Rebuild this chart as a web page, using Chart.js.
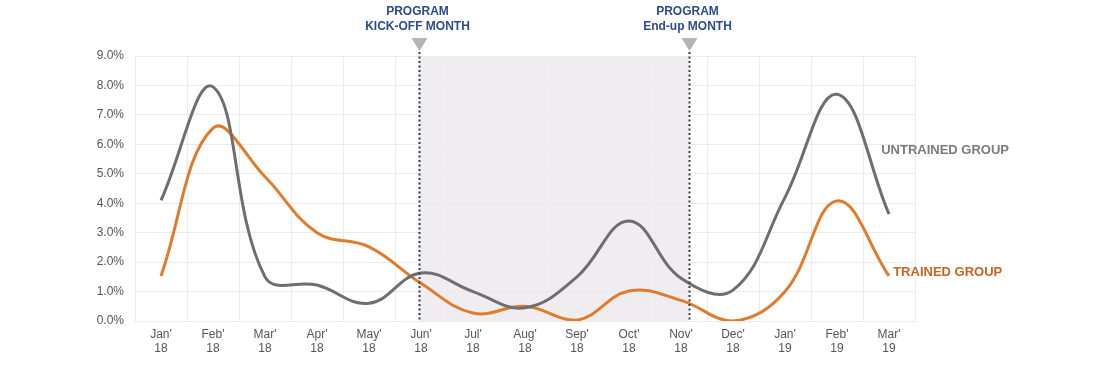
<!DOCTYPE html>
<html>
<head>
<meta charset="utf-8">
<script src="https://cdn.jsdelivr.net/npm/chart.js@4/dist/chart.umd.min.js"></script>
<style>
  html, body { margin: 0; padding: 0; background: #fff; }
  #wrap { width: 1099px; height: 371px; position: relative; }
</style>
</head>
<body>
<div id="wrap"><canvas id="chart"></canvas></div>
<script>
/* ── Data ─────────────────────────────────────────────────────────────── */

const MONTHS    = ["Jan'", "Feb'", "Mar'", "Apr'", "May'", "Jun'", "Jul'", "Aug'",
                   "Sep'", "Oct'", "Nov'", "Dec'", "Jan'", "Feb'", "Mar'"];
const YEARS     = ['18', '18', '18', '18', '18', '18', '18', '18',
                   '18', '18', '18', '18', '19', '19', '19'];
const UNTRAINED = [4.1, 7.95, 1.5, 1.22, 0.6, 1.63, 1.0, 0.45, 1.5, 3.4, 1.45, 1.05, 4.2, 7.7, 3.63];
const TRAINED   = [1.53, 6.55, 4.9, 3.0, 2.52, 1.28, 0.27, 0.5, 0.03, 1.02, 0.7, 0.0, 1.0, 4.08, 1.53];
const Y_TICKS   = [0, 1, 2, 3, 4, 5, 6, 7, 8, 9];

// program window markers (category index, may be fractional)
const MARKERS = [
  { at: 4.96,  text: ['PROGRAM', 'KICK-OFF MONTH'] },
  { at: 10.15, text: ['PROGRAM', 'End-up MONTH'] },
];

// end-of-series labels
const SERIES_TAGS = [
  { text: 'UNTRAINED GROUP', x: 13.85, y: 5.8,  color: '#7b7b7b' },
  { text: 'TRAINED GROUP',   x: 14.08, y: 1.65, color: '#c8641f' },
];

const GREY   = '#6e6e6e';
const ORANGE = '#e07b2c';
const GRID   = '#ebebeb';

/* ── Annotation plugin ────────────────────────────────────────────────── */

const programPlugin = {
  id: 'program',
  beforeDraw(chart) {
    const { ctx, chartArea: a, scales: { x } } = chart;
    const x0 = x.getPixelForValue(MARKERS[0].at);
    const x1 = x.getPixelForValue(MARKERS[1].at);
    ctx.save();
    ctx.fillStyle = '#efedef';
    ctx.fillRect(x0, a.top, x1 - x0, a.bottom - a.top);
    ctx.restore();
  },
  afterDatasetsDraw(chart) {
    const { ctx, chartArea: a, scales: { x, y } } = chart;
    ctx.save();
    MARKERS.forEach(m => {
      const px = Math.round(x.getPixelForValue(m.at)) + 0.5;
      // dotted line
      ctx.strokeStyle = '#333a48';
      ctx.lineWidth = 2;
      ctx.setLineDash([2, 2.5]);
      ctx.beginPath();
      ctx.moveTo(px, a.top - 4);
      ctx.lineTo(px, a.bottom);
      ctx.stroke();
      ctx.setLineDash([]);
      // triangle
      ctx.fillStyle = '#b4b4b4';
      ctx.beginPath();
      ctx.moveTo(px - 8, 38);
      ctx.lineTo(px + 8, 38);
      ctx.lineTo(px, 51);
      ctx.closePath();
      ctx.fill();
      // caption
      ctx.fillStyle = '#2b4c8a';
      ctx.font = 'bold 12px "Liberation Sans", Arial, sans-serif';
      ctx.textAlign = 'center';
      ctx.textBaseline = 'middle';
      ctx.fillText(m.text[0], px - 2, 12);
      ctx.fillText(m.text[1], px - 2, 27);
    });
    SERIES_TAGS.forEach(t => {
      ctx.fillStyle = t.color;
      ctx.font = 'bold 13px "Liberation Sans", Arial, sans-serif';
      ctx.textAlign = 'left';
      ctx.textBaseline = 'middle';
      ctx.fillText(t.text, x.getPixelForValue(t.x), y.getPixelForValue(t.y));
    });
    ctx.restore();
  }
};

/* ── Chart ────────────────────────────────────────────────────────────── */

const labels = MONTHS.map((m, i) => [m, YEARS[i]]);

new Chart(document.getElementById('chart').getContext('2d'), {
  type: 'line',
  data: {
    labels,
    datasets: [
      { label: 'Untrained group', data: UNTRAINED, borderColor: GREY,
        borderWidth: 3, tension: 0.4, pointRadius: 0, fill: false },
      { label: 'Trained group', data: TRAINED, borderColor: ORANGE,
        borderWidth: 3, tension: 0.4, pointRadius: 0, fill: false },
    ]
  },
  options: {
    animation: false,
    responsive: true,
    maintainAspectRatio: false,
    layout: { padding: { top: 56, right: 184, bottom: 0, left: 0 } },
    plugins: { legend: { display: false }, tooltip: { enabled: false } },
    scales: {
      x: {
        offset: true,
        grid: { offset: true, color: GRID, drawTicks: false },
        border: { color: GRID },
        ticks: { color: '#555', padding: 6, maxRotation: 0, autoSkip: false,
                 font: { family: '"Liberation Sans", Arial, sans-serif', size: 12 } },
        afterFit: s => { s.height = 50; }
      },
      y: {
        min: 0, max: 9,
        afterBuildTicks: s => { s.ticks = Y_TICKS.map(v => ({ value: v })); },
        grid: { color: GRID, drawTicks: false },
        border: { color: GRID },
        ticks: { color: '#555', padding: 11,
                 font: { family: '"Liberation Sans", Arial, sans-serif', size: 12 },
                 callback: v => v.toFixed(1) + '%' },
        afterFit: s => { s.width = 135; }
      }
    }
  },
  plugins: [programPlugin]
});
</script>
</body>
</html>
